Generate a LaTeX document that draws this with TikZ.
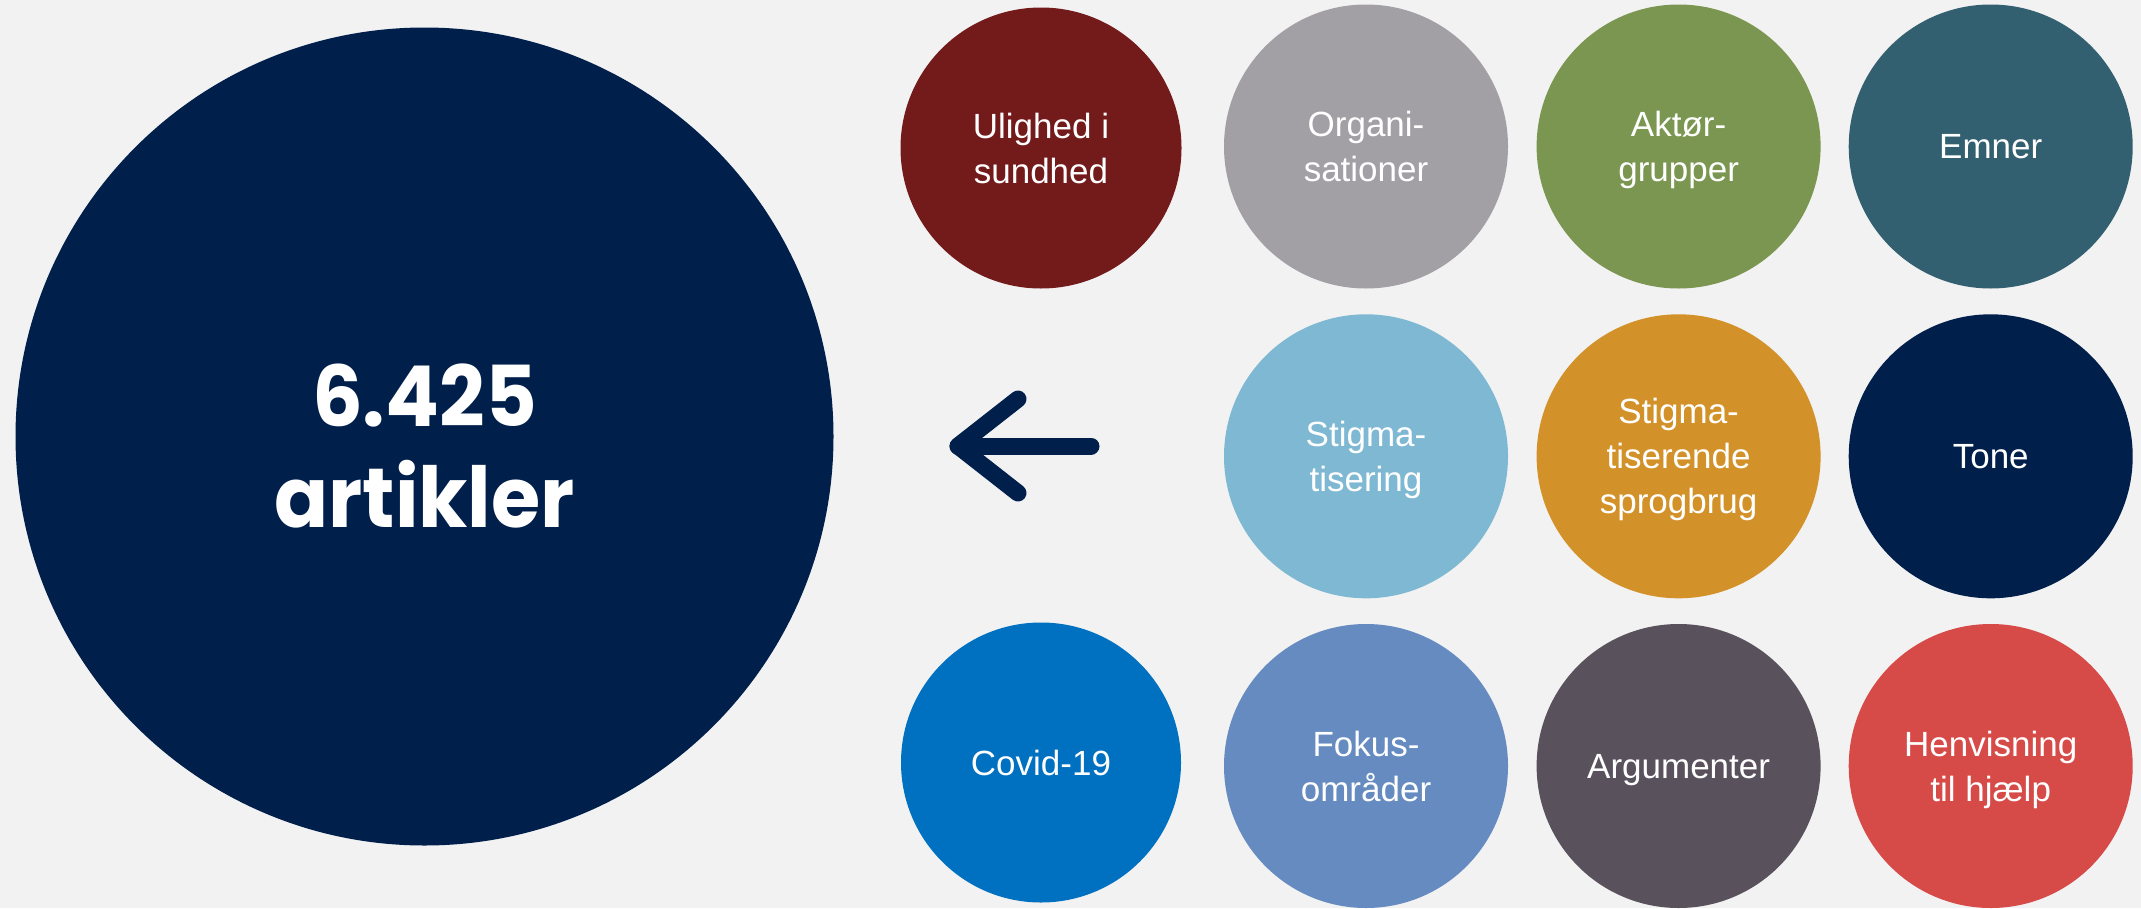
\documentclass[tikz,border=0pt]{standalone}
\usepackage{fontspec}
\setmainfont{Liberation Sans}
\newfontfamily\bigfont{Poppins}[FakeStretch=0.95]
\definecolor{bg}{HTML}{F2F2F2}
\definecolor{navy}{HTML}{001F4B}
\definecolor{cUlighed}{HTML}{731A1B}
\definecolor{cOrgan}{HTML}{A29FA5}
\definecolor{cAktor}{HTML}{7A9650}
\definecolor{cEmner}{HTML}{336070}
\definecolor{cStigA}{HTML}{7EB8D3}
\definecolor{cStigB}{HTML}{D39229}
\definecolor{cCovid}{HTML}{0070C0}
\definecolor{cFokus}{HTML}{658BC1}
\definecolor{cArgum}{HTML}{59515C}
\definecolor{cHenv}{HTML}{D64A48}
\begin{document}
\begin{tikzpicture}[x=1pt,y=-1pt,
  bubble/.style={circle, inner sep=0pt, minimum size=284pt, text=white,
    font=\fontsize{35}{45}\selectfont, align=center, text depth=0pt},
  bigtext/.style={text=white, inner sep=0pt, align=center, text depth=0pt,
    font=\bigfont\bfseries\fontsize{84}{101}\selectfont},
  arrowline/.style={draw=navy, line width=17pt, line cap=round, line join=round}]
\fill[bg] (0,0) rectangle (2141,908);
\useasboundingbox (0,0) rectangle (2141,908);
% big circle
\node[circle, fill=navy, inner sep=0pt, minimum size=818pt] (total) at (424.5,436.5) {};
\node[bigtext] (totaltext) at (424.5,446) {6.425\\artikler};
% arrow
\coordinate (arrowtip) at (958,446);
\coordinate (arrowend) at (1091,446);
\coordinate (armtop) at (1018,399);
\coordinate (armbot) at (1018,493);
\draw[arrowline] (arrowend) -- (arrowtip);
\draw[arrowline] (armtop) -- (arrowtip) -- (armbot);
% row 1
\node[bubble, fill=cUlighed, minimum size=281pt] (ulighed) at (1041,148) {Ulighed i\\sundhed};
\node[bubble, fill=cOrgan] (organ) at (1366,146.5) {Organi-\\sationer};
\node[bubble, fill=cAktor] (aktor) at (1678.6,146.5) {Aktør-\\grupper};
\node[bubble, fill=cEmner] (emner) at (1990.7,146.5) {Emner};
% row 2
\node[bubble, fill=cStigA] (stigA) at (1366,456.3) {Stigma-\\tisering};
\node[bubble, fill=cStigB] (stigB) at (1678.6,456.3) {Stigma-\\tiserende\\sprogbrug};
\node[bubble, fill=navy] (tone) at (1990.7,456.3) {Tone};
% row 3
\node[bubble, fill=cCovid, minimum size=280pt] (covid) at (1041,762.5) {Covid-19};
\node[bubble, fill=cFokus] (fokus) at (1366,766) {Fokus-\\områder};
\node[bubble, fill=cArgum] (argum) at (1678.6,766) {Argumenter};
\node[bubble, fill=cHenv] (henv) at (1990.7,766) {Henvisning\\til hjælp};
\end{tikzpicture}
\end{document}
